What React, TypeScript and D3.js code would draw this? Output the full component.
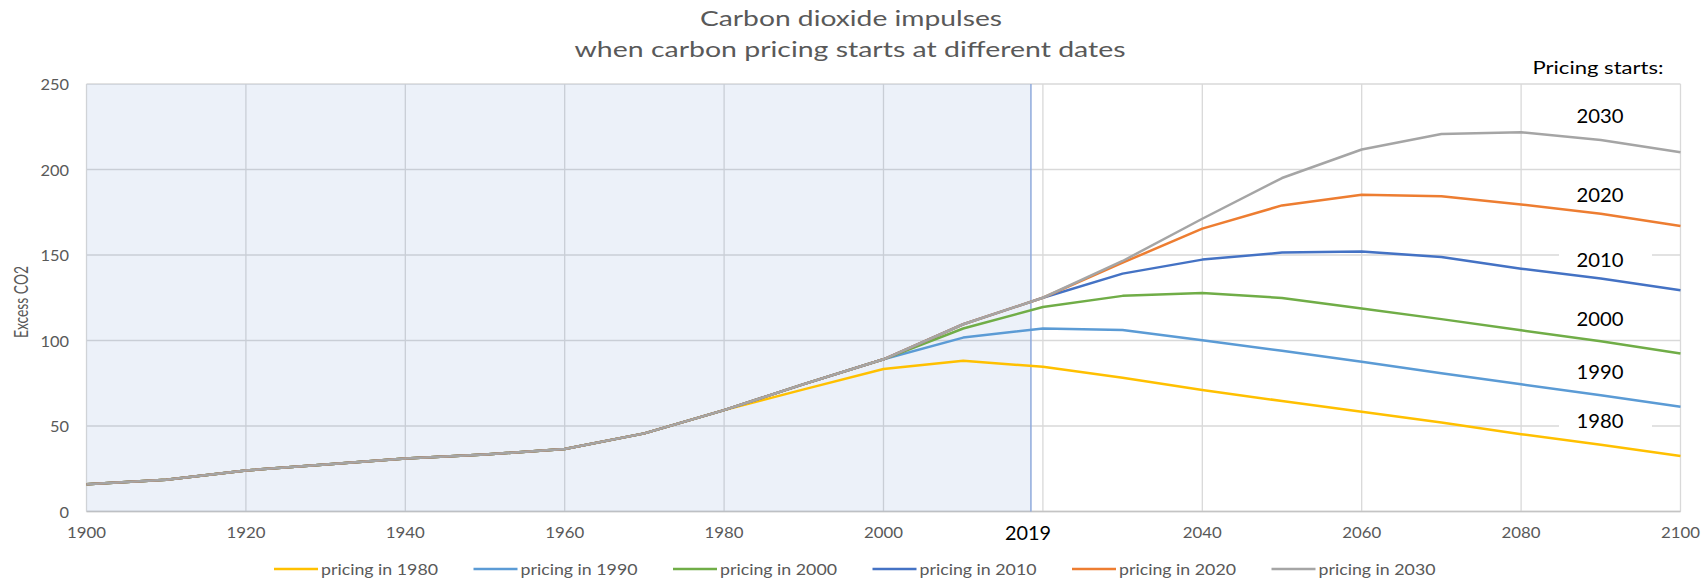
import React from 'react';
import * as d3 from 'd3';

// decades on the x axis, 1900 .. 2100
const years = d3.range(1900, 2101, 10);

// shared history, 1900 .. 1980
const history = [16, 18.5, 24, 27.5, 31, 33.3, 36.6, 45.7, 59.3];

// each scenario, 1990 .. 2100
const pricing1980 = [71.4, 83.3, 88.1, 84.6, 78.2, 71, 64.6, 58.4, 52, 45.2, 39.1, 32.5];
const pricing1990 = [74.5, 89, 101.7, 107, 106.2, 100.2, 94, 87.6, 80.8, 74.4, 68, 61.3];
const pricing2000 = [74.5, 89, 107, 119.6, 126.1, 127.8, 124.9, 118.7, 112.5, 106, 99.5, 92.4];
const pricing2010 = [74.5, 89, 109.5, 125, 139.1, 147.3, 151.4, 152, 148.8, 142, 136.2, 129.4];
const pricing2020 = [74.5, 89, 109.5, 125, 145.5, 165.4, 179, 185.2, 184.3, 179.6, 174.1, 167];
const pricing2030 = [74.5, 89, 109.5, 125, 146.5, 171.2, 195, 211.7, 220.8, 221.8, 217.3, 210.1];

const seriesNames = ['pricing in 1980', 'pricing in 1990', 'pricing in 2000', 'pricing in 2010', 'pricing in 2020', 'pricing in 2030'];
const seriesColors = ['#FFC000', '#5B9BD5', '#70AD47', '#4472C4', '#ED7D31', '#A5A5A5'];
const seriesValues = [pricing1980, pricing1990, pricing2000, pricing2010, pricing2020, pricing2030];

// right-hand labels, placed at these y values
const endLabels = ['2030', '2020', '2010', '2000', '1990', '1980'];
const endLabelValues = [231.3, 185.4, 147.4, 112.9, 81.6, 53];

const xTicks = [1900, 1920, 1940, 1960, 1980, 2000, 2040, 2060, 2080, 2100];
const yTicks = [0, 50, 100, 150, 200, 250];
const nowYear = 2019;
const gridYears = [1900, 1920, 1940, 1960, 1980, 2000, 2020, 2040, 2060, 2080, 2100];

const W = 1708;
const H = 579;
const FONT = 'Lato, "Open Sans", sans-serif';
const GREY = '#595959';

export default function App() {
  const x = d3.scaleLinear().domain([1900, 2100]).range([86.5, 1680.5]);
  const y = d3.scaleLinear().domain([0, 250]).range([511.5, 84]);

  const line = d3.line<number>()
    .x((_, i) => x(years[i]))
    .y(d => y(d));

  const data = seriesValues.map(v => history.concat(v));

  const legendX0 = 274;
  const legendStep = 199.5;
  const stretch = 'spacingAndGlyphs';

  return (
    <svg width={W} height={H} style={{ position: 'absolute', left: 0, top: 0, background: '#fff' }} fontFamily={FONT}>
      <text x={851} y={17} textAnchor="middle" dominantBaseline="central" fontSize={21} fill={GREY} textLength={302} lengthAdjust={stretch}>
        Carbon dioxide impulses
      </text>
      <text x={850} y={48.5} textAnchor="middle" dominantBaseline="central" fontSize={21} fill={GREY} textLength={551} lengthAdjust={stretch}>
        when carbon pricing starts at different dates
      </text>

      {/* gridlines */}
      {yTicks.map(t => (
        <line key={'gy' + t} x1={x(1900)} x2={x(2100)} y1={y(t)} y2={y(t)} stroke="#d9d9d9" strokeWidth={1.3} />
      ))}
      {gridYears.map(t => (
        <line key={'gx' + t} x1={x(t)} x2={x(t)} y1={y(0)} y2={y(250)} stroke="#d9d9d9" strokeWidth={1.3} />
      ))}
      <line x1={x(1900)} x2={x(2100)} y1={y(0)} y2={y(0)} stroke="#c4c4c4" strokeWidth={1.6} />

      {/* past shading */}
      <rect x={x(1900)} y={y(250)} width={x(nowYear) - x(1900) - 4} height={y(0) - y(250)} fill="#4472C4" fillOpacity={0.1} />
      <line x1={x(nowYear) - 4} x2={x(nowYear) - 4} y1={y(250)} y2={y(0)} stroke="#8FAADC" strokeWidth={1.5} />

      {/* label boxes */}
      {endLabels.map((l, i) => (
        <rect key={'lb' + l} x={1559} y={y(endLabelValues[i]) - 14} width={93} height={28} fill="#fff" />
      ))}

      {data.map((d, i) => (
        <path key={seriesNames[i]} d={line(d) || ''} fill="none" stroke={seriesColors[i]} strokeWidth={2.5} strokeLinejoin="round" />
      ))}

      {endLabels.map((l, i) => (
        <text key={'el' + l} x={1600} y={y(endLabelValues[i])} textAnchor="middle" dominantBaseline="central" fontSize={19.5} fill="#000" textLength={47} lengthAdjust={stretch}>
          {l}
        </text>
      ))}
      <text x={1598} y={67.5} textAnchor="middle" dominantBaseline="central" fontSize={17} fill="#000" textLength={131} lengthAdjust={stretch}>
        Pricing starts:
      </text>

      {/* axes */}
      {yTicks.map(t => (
        <text key={'yt' + t} x={69} y={y(t)} textAnchor="end" dominantBaseline="central" fontSize={15} fill={GREY} textLength={String(t).length * 9.5} lengthAdjust={stretch}>
          {t}
        </text>
      ))}
      {xTicks.map(t => (
        <text key={'xt' + t} x={x(t)} y={532} textAnchor="middle" dominantBaseline="central" fontSize={15} fill={GREY} textLength={39} lengthAdjust={stretch}>
          {t}
        </text>
      ))}
      <text x={x(nowYear) - 7} y={532} textAnchor="middle" dominantBaseline="central" fontSize={20} fill="#000" textLength={46} lengthAdjust={stretch}>
        {nowYear}
      </text>
      <text transform={`translate(20.5,302) scale(1.3,1) rotate(-90)`} textAnchor="middle" dominantBaseline="central" fontSize={15} fill={GREY} textLength={72} lengthAdjust={stretch}>
        Excess CO2
      </text>

      {/* legend */}
      {seriesNames.map((n, i) => (
        <g key={'lg' + n} transform={`translate(${legendX0 + i * legendStep},569)`}>
          <line x1={0} x2={44} y1={0} y2={0} stroke={seriesColors[i]} strokeWidth={2.5} />
          <text x={47} y={0} dominantBaseline="central" fontSize={15.5} fill={GREY} textLength={117} lengthAdjust={stretch}>{n}</text>
        </g>
      ))}
    </svg>
  );
}
